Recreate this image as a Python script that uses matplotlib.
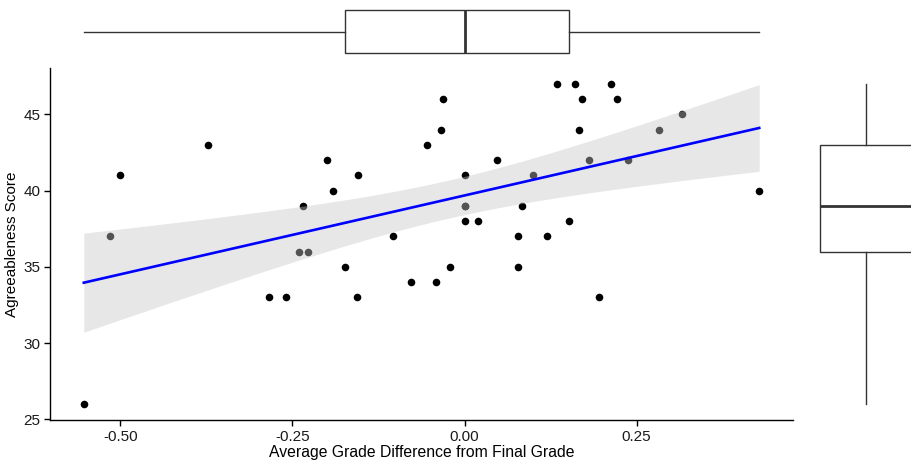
import numpy as np
import matplotlib
matplotlib.use("Agg")
from matplotlib import pyplot as plt

plt.rcParams['font.family'] = ['Liberation Sans', 'DejaVu Sans']

# average grade difference vs agreeableness score
grade_diff = [-0.553, -0.515, -0.500, -0.373, -0.284, -0.260, -0.241, -0.234, -0.228,
              -0.200, -0.191, -0.174, -0.156, -0.154, -0.104, -0.078, -0.055, -0.042,
              -0.034, -0.031, -0.021, 0.000, 0.000, 0.000, 0.000, 0.020, 0.047, 0.077,
              0.078, 0.084, 0.099, 0.120, 0.134, 0.152, 0.161, 0.166, 0.170, 0.181,
              0.196, 0.212, 0.221, 0.238, 0.282, 0.316, 0.428]
agree = [26, 37, 41, 43, 33, 33, 36, 39, 36,
         42, 40, 35, 33, 41, 37, 34, 43, 34,
         44, 46, 35, 41, 39, 39, 38, 38, 42, 37,
         35, 39, 41, 37, 47, 38, 47, 44, 46, 42,
         33, 47, 46, 42, 44, 45, 40]
xticks = [-0.50, -0.25, 0.00, 0.25]
yticks = [25, 30, 35, 40, 45]

x = np.array(grade_diff)
y = np.array(agree)

W, H = 912, 463
fig = plt.figure(figsize=(W/100, H/100), dpi=100)

def px(l, t, r, b):
    return [l/W, 1-b/H, (r-l)/W, (b-t)/H]

ax = fig.add_axes(px(50, 68, 793, 420))
ax_top = fig.add_axes(px(50, 0, 793, 63), sharex=ax)
ax_rt = fig.add_axes(px(800, 68, 912, 420), sharey=ax)

# points
ax.scatter(x, y, s=30, color='black', linewidths=0, zorder=2)

# linear fit with 95% confidence band
n = len(x)
b1, b0 = np.polyfit(x, y, 1)
xs = np.linspace(x.min(), x.max(), 100)
ys = b0 + b1*xs
resid = y - (b0 + b1*x)
s = np.sqrt(np.sum(resid**2)/(n-2))
se = s*np.sqrt(1/n + (xs-x.mean())**2/np.sum((x-x.mean())**2))
tval = 2.017
ax.fill_between(xs, ys-tval*se, ys+tval*se, color='#c8c8c8', alpha=0.42, linewidth=0, zorder=3)
ax.plot(xs, ys, color='#0000ff', linewidth=1.9, zorder=4)

ax.set_xlim(x.min() - 0.05*np.ptp(x), x.max() + 0.05*np.ptp(x))
ax.set_ylim(y.min() - 0.05*np.ptp(y), y.max() + 0.05*np.ptp(y))
ax.set_xticks(xticks)
ax.set_xticklabels(['%.2f' % v for v in xticks])
ax.set_yticks(yticks)
for sp in ['top', 'right']:
    ax.spines[sp].set_visible(False)
for sp in ['left', 'bottom']:
    ax.spines[sp].set_linewidth(1.0)
ax.tick_params(labelsize=11, length=4, width=1.0, pad=3, colors='black', labelcolor='#1a1a1a')
ax.set_xlabel('Average Grade Difference from Final Grade', fontsize=11.3, labelpad=1)
ax.set_ylabel('Agreeableness Score', fontsize=11, labelpad=3)

bp_style = dict(boxprops=dict(color='#333333', linewidth=1.0),
                whiskerprops=dict(color='#333333', linewidth=1.0),
                medianprops=dict(color='#333333', linewidth=2.0),
                showcaps=False, showfliers=False, patch_artist=True)

b = ax_top.boxplot(x, vert=False, positions=[0.5], widths=0.68, **bp_style)
b['boxes'][0].set_facecolor('white')
ax_top.set_ylim(0, 1)
ax_top.axis('off')

b = ax_rt.boxplot(y, vert=True, positions=[0.589], widths=0.82, **bp_style)
b['boxes'][0].set_facecolor('white')
ax_rt.set_xlim(0, 1)
ax_rt.axis('off')

fig.savefig('out.png', dpi=100)
